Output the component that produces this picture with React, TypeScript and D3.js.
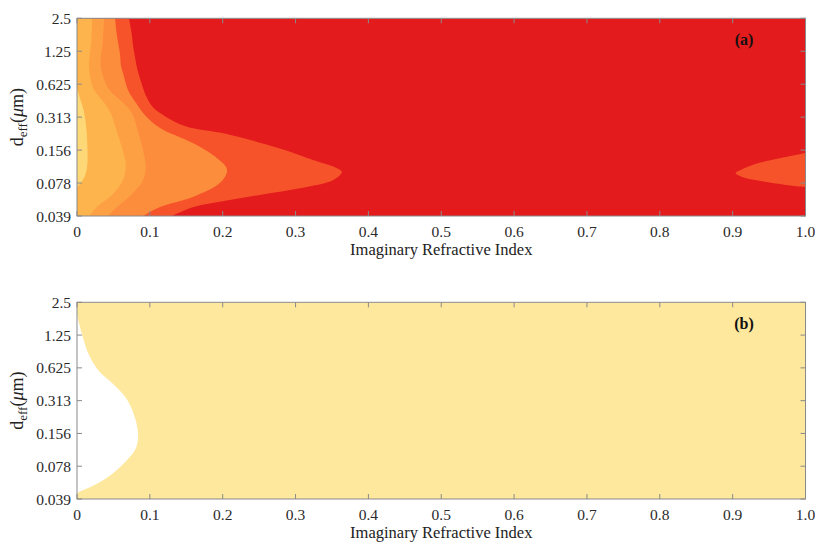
import React from "react";
import * as d3 from "d3";

type P = [number, number];

const xTicks = [0, 0.1, 0.2, 0.3, 0.4, 0.5, 0.6, 0.7, 0.8, 0.9, 1.0];
const xTickLabels = ["0", "0.1", "0.2", "0.3", "0.4", "0.5", "0.6", "0.7", "0.8", "0.9", "1.0"];
const yTicks = [2.5, 1.25, 0.625, 0.3125, 0.15625, 0.078125, 0.0390625];
const yTickLabels = ["2.5", "1.25", "0.625", "0.313", "0.156", "0.078", "0.039"];

// Panel (a): contour boundaries [imaginary index, d_eff], region lies to the left
const levelYellow: P[] = [
  [0, 0.577], [0.004, 0.467], [0.0096, 0.35], [0.013, 0.238], [0.0144, 0.156],
  [0.0137, 0.1075], [0.0096, 0.0869], [0.004, 0.0765], [0, 0.0719],
];
const levelLightOrange: P[] = [
  [0.0206, 2.5], [0.0199, 1.583], [0.0165, 0.916], [0.022, 0.577], [0.0343, 0.448],
  [0.0453, 0.35], [0.0563, 0.215], [0.0646, 0.141], [0.0669, 0.112], [0.0632, 0.0833],
  [0.048, 0.0608], [0.0288, 0.0482], [0.0165, 0.0390625],
];
const levelMidOrange: P[] = [
  [0.0371, 2.5], [0.0357, 1.583], [0.0326, 0.916], [0.0426, 0.577], [0.059, 0.448],
  [0.0742, 0.35], [0.0852, 0.215], [0.092, 0.141], [0.0944, 0.112], [0.0907, 0.0833],
  [0.0755, 0.0622], [0.0549, 0.0472], [0.0426, 0.0390625],
];
const levelOrange: P[] = [
  [0.0522, 2.5], [0.0545, 1.798], [0.059, 1.18], [0.0604, 0.916], [0.0636, 0.775],
  [0.07, 0.553], [0.082, 0.412], [0.0934, 0.326], [0.114, 0.249], [0.159, 0.181],
  [0.192, 0.132], [0.206, 0.1028], [0.196, 0.0781], [0.159, 0.0583], [0.114, 0.0472],
  [0.0907, 0.0390625],
];
const levelOrangeRed: P[] = [
  [0.0714, 2.5], [0.0751, 1.798], [0.0773, 1.358], [0.0797, 1.1], [0.0824, 0.879],
  [0.0889, 0.628], [0.0957, 0.474], [0.104, 0.387], [0.114, 0.341], [0.148, 0.259],
  [0.2056, 0.219], [0.274, 0.165], [0.324, 0.127], [0.357, 0.1066], [0.3636, 0.0986],
  [0.352, 0.0833], [0.306, 0.07], [0.251, 0.0608], [0.2056, 0.0541], [0.16, 0.0472],
  [0.13, 0.0390625],
];
// Panel (a): orange-red lobe at the right edge, region lies to the right
const levelOrangeRedRight: P[] = [
  [1.0, 0.147], [0.966, 0.132], [0.931, 0.1166], [0.911, 0.1028], [0.904, 0.0965],
  [0.913, 0.0887], [0.938, 0.0816], [0.973, 0.0751], [1.0, 0.0719],
];
// Panel (b): white region at the left
const whiteRegionB: P[] = [
  [0, 1.913], [0.0065, 1.298], [0.0155, 0.851], [0.0288, 0.598], [0.0481, 0.454],
  [0.0673, 0.331], [0.0783, 0.231], [0.0838, 0.1566], [0.081, 0.115], [0.0687, 0.0892],
  [0.0481, 0.0664], [0.0247, 0.0527], [0.0041, 0.0457], [0, 0.0441],
];

const LEFT = 77;
const RIGHT = 805.5;
const FONT = "'Liberation Serif', 'Times New Roman', serif";

type Layer = { pts: P[]; color: string; side: "left" | "right" };

function Panel(props: {
  id: string;
  top: number;
  bottom: number;
  bg: string;
  layers: Layer[];
  tag: string;
}) {
  const { id, top, bottom, bg, layers, tag } = props;
  const x = d3.scaleLinear().domain([0, 1]).range([LEFT, RIGHT]);
  const y = d3.scaleLog().domain([0.0390625, 2.5]).range([bottom, top]);
  const curve = d3.curveCatmullRom.alpha(0.5);
  const tickLen = 5;
  const axisColor = "#8a8a8a";
  const midY = (top + bottom) / 2;

  return (
    <g>
      <defs>
        <clipPath id={id}>
          <rect x={LEFT} y={top} width={RIGHT - LEFT} height={bottom - top} />
        </clipPath>
      </defs>
      <g clipPath={`url(#${id})`}>
        <rect x={LEFT} y={top} width={RIGHT - LEFT} height={bottom - top} fill={bg} />
        {layers.map((l, i) => {
          const area = d3
            .area<P>()
            .y((p) => y(p[1]))
            .x0(l.side === "left" ? x(0) - 2 : (p) => x(p[0]))
            .x1(l.side === "left" ? (p) => x(p[0]) : x(1) + 2)
            .curve(curve);
          return <path key={i} d={area(l.pts) || ""} fill={l.color} stroke="none" />;
        })}
      </g>
      <rect x={LEFT} y={top} width={RIGHT - LEFT} height={bottom - top} fill="none" stroke={axisColor} strokeWidth={1} />
      {xTicks.map((t, i) => (
        <g key={"xt" + i}>
          <line x1={x(t)} x2={x(t)} y1={bottom} y2={bottom - tickLen} stroke={axisColor} />
          <line x1={x(t)} x2={x(t)} y1={top} y2={top + tickLen} stroke={axisColor} />
          <text x={x(t)} y={bottom + 21} textAnchor="middle" fontFamily={FONT} fontSize={15.5} fill="#2a2a2a">
            {xTickLabels[i]}
          </text>
        </g>
      ))}
      {yTicks.map((t, i) => (
        <g key={"yt" + i}>
          <line x1={LEFT} x2={LEFT + tickLen} y1={y(t)} y2={y(t)} stroke={axisColor} />
          <line x1={RIGHT} x2={RIGHT - tickLen} y1={y(t)} y2={y(t)} stroke={axisColor} />
          <text x={71} y={y(t) + 5.5} textAnchor="end" fontFamily={FONT} fontSize={15.5} fill="#2a2a2a">
            {yTickLabels[i]}
          </text>
        </g>
      ))}
      <text x={(LEFT + RIGHT) / 2} y={bottom + 39} textAnchor="middle" fontFamily={FONT} fontSize={16.5} fill="#222">
        Imaginary Refractive Index
      </text>
      <text transform={`translate(23,${midY}) rotate(-90)`} textAnchor="middle" fontFamily={FONT} fontSize={18} fill="#222">
        d<tspan dy={4} fontSize={13}>eff</tspan>
        <tspan dy={-4}>(</tspan>
        <tspan fontStyle="italic">μ</tspan>m)
      </text>
      <text x={744} y={top + 27} textAnchor="middle" fontFamily={FONT} fontSize={16} fontWeight="bold" fill="#111">
        {tag}
      </text>
    </g>
  );
}

export default function App() {
  const layersA: Layer[] = [
    { pts: levelOrangeRed, color: "#f6532a", side: "left" },
    { pts: levelOrange, color: "#fc8d3c", side: "left" },
    { pts: levelMidOrange, color: "#fda044", side: "left" },
    { pts: levelLightOrange, color: "#fdb44c", side: "left" },
    { pts: levelYellow, color: "#fed876", side: "left" },
    { pts: levelOrangeRedRight, color: "#f6532a", side: "right" },
  ];
  const layersB: Layer[] = [{ pts: whiteRegionB, color: "#ffffff", side: "left" }];
  return (
    <svg
      width={815}
      height={542}
      style={{ position: "fixed", left: 0, top: 0, background: "#fff" }}
    >
      <Panel id="clipA" top={18.3} bottom={216} bg="#e31b1d" layers={layersA} tag="(a)" />
      <Panel id="clipB" top={302.3} bottom={499} bg="#fde89d" layers={layersB} tag="(b)" />
    </svg>
  );
}
